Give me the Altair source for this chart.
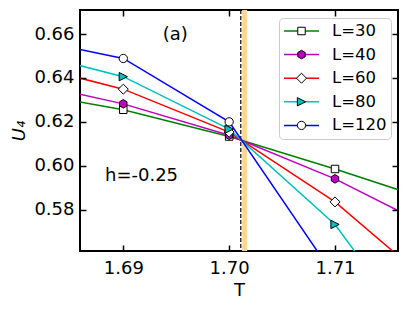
import altair as alt
import pandas as pd

# ---------------- data ----------------
T_VALUES = [1.68, 1.69, 1.70, 1.71, 1.72]
L_LABELS = ["L=30", "L=40", "L=60", "L=80", "L=120"]
U4_L30 = [0.6341, 0.6255, 0.6133, 0.5985, 0.5827]
U4_L40 = [0.6390, 0.6282, 0.6139, 0.5940, 0.5696]
U4_L60 = [0.6472, 0.6349, 0.6153, 0.5835, 0.5423]
U4_L80 = [0.6529, 0.6406, 0.6167, 0.5732, 0.5076]
U4_L120 = [0.6590, 0.6489, 0.6200, 0.5492, 0.4900]
MARKER_T = [1.69, 1.70, 1.71]
TC_LINE = [1.7011]
TC_BAND_LO = [1.70123]
TC_BAND_HI = [1.70170]
X_TICKS = [1.69, 1.70, 1.71]
Y_TICKS = [0.58, 0.60, 0.62, 0.64, 0.66]
X_DOMAIN = [1.68591, 1.71595]
Y_DOMAIN = [0.5611, 0.6710]
NOTE_LABELS = ["(a)", "h=-0.25"]
NOTE_T = [1.69491, 1.68827]
NOTE_U = [0.6598, 0.5955]
NOTE_ALIGN = ["center", "left"]

# ---------------- styles ----------------
FONT = "DejaVu Sans"
LINE_COLORS = ["#008000", "#bf00bf", "#ff0000", "#00bfbf", "#0000ff"]
FILL_COLORS = ["#ffffff", "#bf00bf", "#ffffff", "#00bfbf", "#ffffff"]
EDGE_COLORS = ["#000000"] * 5
# custom marker paths (scaled for symbol size 1260 -> 17.75 px per unit)
SHAPES = [
    "M-0.211,-0.211H0.211V0.211H-0.211Z",
    "M0,-0.24L0.208,-0.12L0.208,0.12L0,0.24L-0.208,0.12L-0.208,-0.12Z",
    "M0,-0.282L0.282,0L0,0.282L-0.282,0Z",
    "M0.234,0L-0.234,0.234L-0.234,-0.234Z",
    "M0.234,0A0.234,0.234,0,1,1,-0.234,0A0.234,0.234,0,1,1,0.234,0Z",
]

# marker-legend keys differ from line-legend keys only by a trailing space,
# so that Vega-Lite keeps the two legends separate (they are overlaid).
M_LABELS = [lab + " " for lab in L_LABELS]

series = [U4_L30, U4_L40, U4_L60, U4_L80, U4_L120]
rows = []
for lab, mlab, vals in zip(L_LABELS, M_LABELS, series):
    for t, u in zip(T_VALUES, vals):
        rows.append({"T": t, "U4": u, "L": lab, "Lm": mlab})
df = pd.DataFrame(rows)
df_markers = df[df["T"].isin(MARKER_T)]
band_df = pd.DataFrame({"t1": TC_BAND_LO, "t2": TC_BAND_HI})
rule_df = pd.DataFrame({"t": TC_LINE})
note_df = pd.DataFrame({"txt": NOTE_LABELS, "T": NOTE_T, "U": NOTE_U, "al": NOTE_ALIGN})

xs = alt.Scale(domain=X_DOMAIN, nice=False, zero=False)
ys = alt.Scale(domain=Y_DOMAIN, nice=False, zero=False)

TICK = dict(ticks=True, tickSize=6, tickWidth=1.5, tickColor="black",
            domain=False, grid=False, offset=-6, zindex=2)
LAB = dict(labelFont=FONT, labelFontSize=18, labelColor="black",
           titleFont=FONT, titleFontSize=18, titleColor="black", titleFontWeight="normal")

bottom_axis = alt.Axis(orient="bottom", values=X_TICKS, format=".2f", title="T",
                       labelPadding=8, titlePadding=4, **TICK, **LAB)
left_axis = alt.Axis(orient="left", values=Y_TICKS, format=".2f", title="U₄",
                     titleFontStyle="italic", labelPadding=6, titlePadding=5, **TICK, **LAB)
top_axis = alt.Axis(orient="top", values=X_TICKS, labels=False, title=None, **TICK)
right_axis = alt.Axis(orient="right", values=Y_TICKS, labels=False, title=None, **TICK)

LEG_COMMON = dict(title=None, orient="none", legendX=199, legendY=8, direction="vertical",
                  labelFont=FONT, labelFontSize=16.5, labelColor="black", padding=4,
                  labelOffset=12, symbolOffset=0, clipHeight=18, rowPadding=5.6,
                  symbolOpacity=1)

legend_lines = alt.Legend(symbolType="M-1,0H1", symbolSize=1225, symbolStrokeWidth=1.5,
                          fillColor="white", strokeColor="#cccccc", cornerRadius=4,
                          **LEG_COMMON)
legend_marks = alt.Legend(symbolSize=1260, symbolStrokeWidth=1,
                          labelExpr="''", **LEG_COMMON)

band = alt.Chart(band_df).mark_rect(color="#fdd798", clip=True).encode(
    x=alt.X("t1:Q", scale=xs, axis=None), x2="t2:Q")

rule = alt.Chart(rule_df).mark_rule(color="black", strokeDash=[4, 2], strokeWidth=1.2).encode(
    x=alt.X("t:Q", scale=xs, axis=None))

lines = alt.Chart(df).mark_line(strokeWidth=1.5, clip=True).encode(
    x=alt.X("T:Q", scale=xs, axis=bottom_axis),
    y=alt.Y("U4:Q", scale=ys, axis=left_axis),
    color=alt.Color("L:N", sort=L_LABELS,
                    scale=alt.Scale(domain=L_LABELS, range=LINE_COLORS),
                    legend=legend_lines),
    order="T:Q")

points = alt.Chart(df_markers).mark_point(filled=True, size=1260,
                                          strokeWidth=1, opacity=1, clip=True).encode(
    x=alt.X("T:Q", scale=xs, axis=top_axis),
    y=alt.Y("U4:Q", scale=ys, axis=right_axis),
    shape=alt.Shape("Lm:N", sort=M_LABELS,
                    scale=alt.Scale(domain=M_LABELS, range=SHAPES), legend=legend_marks),
    fill=alt.Fill("Lm:N", sort=M_LABELS,
                  scale=alt.Scale(domain=M_LABELS, range=FILL_COLORS), legend=legend_marks),
    stroke=alt.Stroke("Lm:N", sort=M_LABELS,
                      scale=alt.Scale(domain=M_LABELS, range=EDGE_COLORS), legend=legend_marks))

notes_c = alt.Chart(note_df[note_df["al"] == "center"]).mark_text(
    font=FONT, fontSize=18, color="black", align="center", baseline="middle").encode(
    x=alt.X("T:Q", scale=xs, axis=None), y=alt.Y("U:Q", scale=ys, axis=None), text="txt:N")
notes_l = alt.Chart(note_df[note_df["al"] == "left"]).mark_text(
    font=FONT, fontSize=18, color="black", align="left", baseline="middle").encode(
    x=alt.X("T:Q", scale=xs, axis=None), y=alt.Y("U:Q", scale=ys, axis=None), text="txt:N")

chart = alt.layer(band, rule, lines, points, notes_c, notes_l).resolve_axis(
    x="independent", y="independent"
).properties(
    width=318, height=241, autosize="none",
    padding={"left": 72, "top": 2, "right": 3, "bottom": 50},
    background="white",
).configure_view(stroke="black", strokeWidth=2)

chart.save("out.html", embed_options={"renderer": "svg", "actions": False})
